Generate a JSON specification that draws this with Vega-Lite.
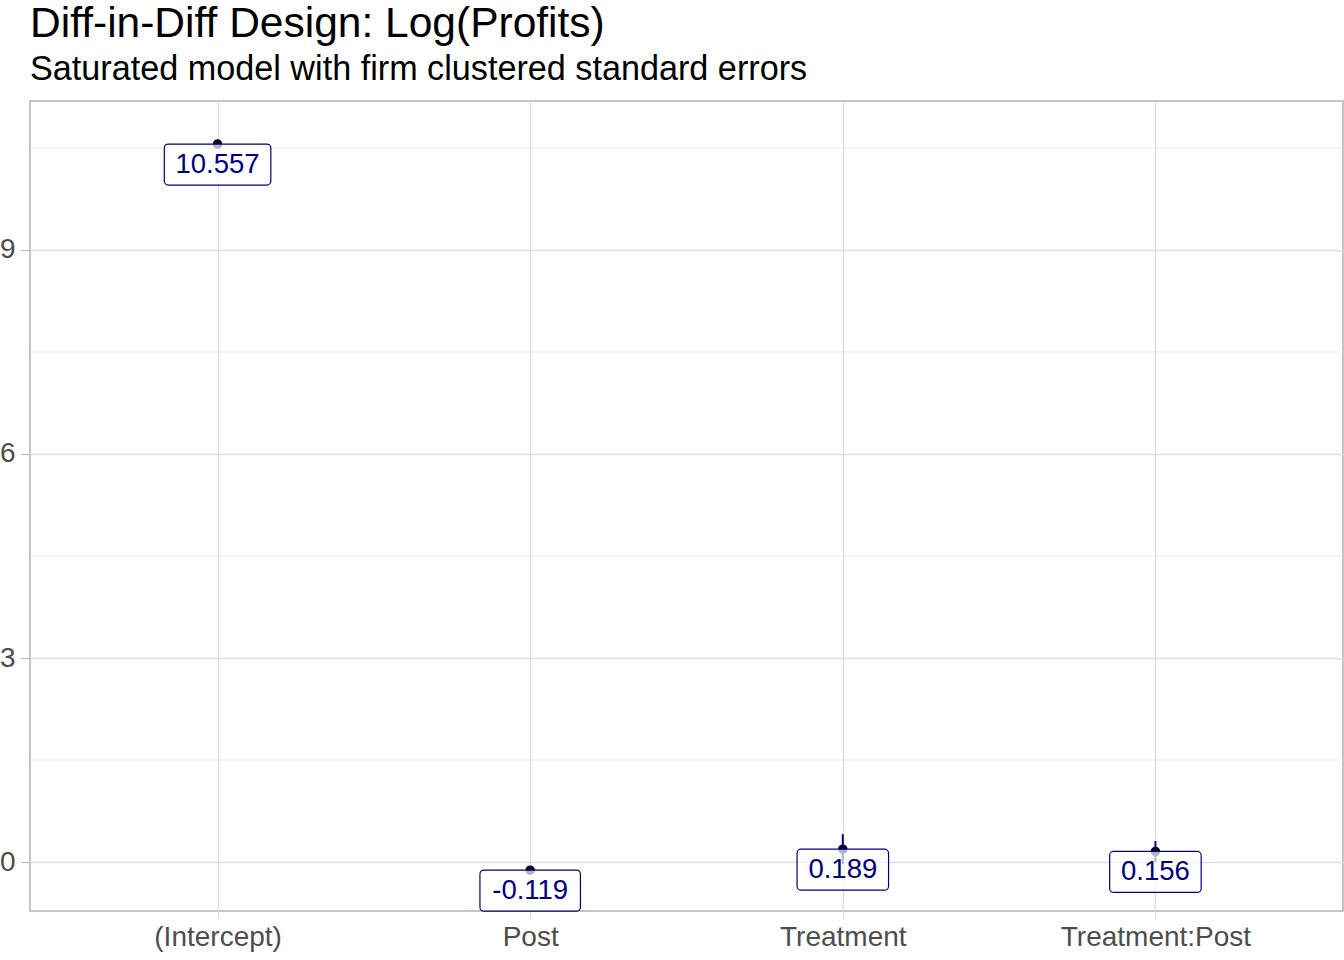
{
  "$schema": "https://vega.github.io/schema/vega-lite/v6.json",
  "width": 1313,
  "height": 810,
  "autosize": {"type": "none"},
  "padding": {"left": 30, "top": 101, "right": 1, "bottom": 49},
  "title": {
    "text": "Diff-in-Diff Design: Log(Profits)",
    "subtitle": "Saturated model with firm clustered standard errors",
    "anchor": "start",
    "frame": "group",
    "font": "Liberation Sans",
    "subtitleFont": "Liberation Sans",
    "fontSize": 42.5,
    "subtitleFontSize": 34.2,
    "fontWeight": "normal",
    "color": "#000000",
    "subtitleColor": "#000000",
    "offset": 14,
    "subtitlePadding": 7
  },
  "config": {
    "view": {"stroke": "#B3B3B3", "strokeWidth": 1.5},
    "axis": {
      "labelFont": "Liberation Sans",
      "labelFontSize": 28,
      "labelColor": "#4D4D4D",
      "labelLimit": 0,
      "domain": false,
      "gridColor": "#DEDEDE",
      "gridWidth": 1.3,
      "tickColor": "#B3B3B3",
      "title": null
    }
  },
  "datasets": {
    "coefs": [
      {"term": "(Intercept)", "estimate": 10.557, "low": 10.5, "high": 10.61, "label": "10.557"},
      {"term": "Post", "estimate": -0.119, "low": -0.17, "high": -0.07, "label": "-0.119"},
      {"term": "Treatment", "estimate": 0.189, "low": -0.03, "high": 0.41, "label": "0.189"},
      {"term": "Treatment:Post", "estimate": 0.156, "low": 0.0, "high": 0.31, "label": "0.156"}
    ],
    "minor": [{"v": 1.5}, {"v": 4.5}, {"v": 7.5}, {"v": 10.5}]
  },
  "layer": [
    {
      "data": {"name": "minor"},
      "mark": {"type": "rule", "color": "#DEDEDE", "strokeWidth": 0.7},
      "encoding": {
        "y": {"field": "v", "type": "quantitative"}
      }
    },
    {
      "data": {"name": "coefs"},
      "mark": {"type": "point", "filled": true, "shape": "circle", "color": "#000000", "size": 90, "opacity": 1},
      "encoding": {
        "x": {
          "field": "term", "type": "nominal", "sort": null,
          "scale": {"type": "point", "padding": 0.6},
          "axis": {"labelAngle": 0, "grid": true, "tickSize": 7, "labelPadding": 5, "tickColor": "#DEDEDE"}
        },
        "y": {
          "field": "estimate", "type": "quantitative",
          "scale": {"domain": [-0.72, 11.19], "nice": false, "zero": false},
          "axis": {"values": [0, 3, 6, 9], "format": "d", "tickSize": 9, "labelPadding": 6}
        }
      }
    },
    {
      "data": {"name": "coefs"},
      "mark": {"type": "rule", "color": "#000080", "strokeWidth": 2},
      "encoding": {
        "x": {"field": "term", "type": "nominal", "sort": null},
        "y": {"field": "low", "type": "quantitative"},
        "y2": {"field": "high"}
      }
    },
    {
      "data": {"name": "coefs"},
      "mark": {
        "type": "rect",
        "fill": "#FFFFFF",
        "fillOpacity": 0.7,
        "stroke": "#000080",
        "strokeWidth": 1.2,
        "cornerRadius": 4,
        "baseline": "top",
        "height": 41,
        "width": {"expr": "(length(datum.label) - 1 - (indexof(datum.label, '-') >= 0 ? 1 : 0)) * 15 + (indexof(datum.label, '-') >= 0 ? 9 : 0) + 31.5"}
      },
      "encoding": {
        "x": {"field": "term", "type": "nominal", "sort": null},
        "y": {"field": "estimate", "type": "quantitative"}
      }
    },
    {
      "data": {"name": "coefs"},
      "mark": {
        "type": "text",
        "font": "Liberation Sans",
        "fontSize": 27.5,
        "color": "#000080",
        "baseline": "middle",
        "align": "center",
        "dy": 21
      },
      "encoding": {
        "x": {"field": "term", "type": "nominal", "sort": null},
        "y": {"field": "estimate", "type": "quantitative"},
        "text": {"field": "label"}
      }
    }
  ]
}
